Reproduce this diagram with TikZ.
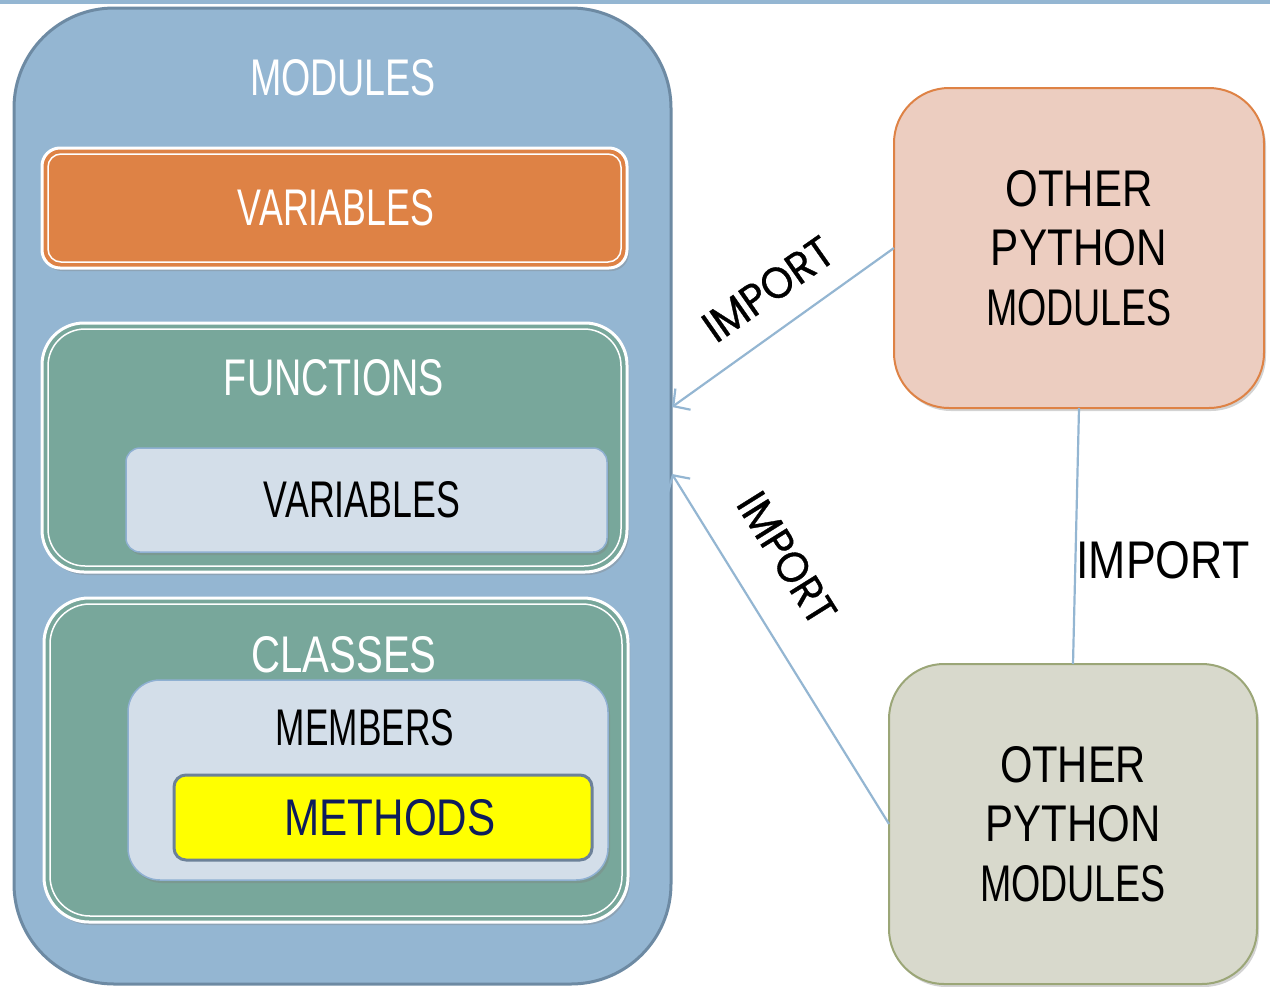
\documentclass[tikz,border=0pt]{standalone}
\usepackage{fontspec}
\setmainfont{Liberation Sans}
\newfontfamily\geo[FakeBold=0.8]{Poppins}
\usetikzlibrary{arrows.meta,shadows,calc}
\definecolor{cblue}{HTML}{94B6D2}
\definecolor{cbluedk}{HTML}{6D8AA3}
\definecolor{corange}{HTML}{DE8245}
\definecolor{cteal}{HTML}{78A79B}
\definecolor{clight}{HTML}{D3DEE9}
\definecolor{clightbd}{HTML}{8FB0D2}
\definecolor{cyell}{HTML}{FFFF00}
\definecolor{cyellbd}{HTML}{6C8199}
\definecolor{cnavy}{HTML}{0E1C5C}
\definecolor{cpink}{HTML}{ECCDC0}
\definecolor{cgrey}{HTML}{D8D9CC}
\definecolor{cgreybd}{HTML}{9BA677}
\newcommand{\lbl}[3]{\resizebox{#1pt}{#2pt}{#3}}
\begin{document}
\begin{tikzpicture}[x=1pt,y=-1pt,
  every node/.style={inner sep=0pt,outer sep=0pt},
  box/.style={anchor=north west},
  shad/.style={drop shadow={opacity=0.35,shadow xshift=2pt,shadow yshift=-3pt}},
  whitebox/.style={box,draw=white,line width=3pt,shad},
  lightbox/.style={box,fill=clight,draw=clightbd,line width=1.5pt,shad},
  conn/.style={draw=cblue,line width=2.2pt},
  arr/.style={conn,-{Straight Barb[length=12pt,width=26pt,line width=2.2pt]}},
  inner/.style={draw=white,line width=1.5pt}
]
\useasboundingbox (0,0) rectangle (1270,986);
\fill[cblue] (0,0) rectangle (1270,4);

% main modules box
\node[box,fill=cblue,draw=cbluedk,line width=3pt,rounded corners=100pt,
  minimum width=657pt,minimum height=976pt] (mod) at (14,8) {};
\node[text=white] (modt) at (343,78) {\lbl{186}{36}{MODULES}};

% variables (orange)
\node[whitebox,fill=corange,rounded corners=18pt,minimum width=585pt,minimum height=120pt] (ovar) at (42,148) {};
\draw[inner,rounded corners=13pt] ($(ovar.north west)+(6,6)$) rectangle ($(ovar.south east)+(-6,-6)$);
\node[text=white] (ovart) at (336,208) {\lbl{196}{36}{VARIABLES}};

% functions
\node[whitebox,fill=cteal,rounded corners=42pt,minimum width=585pt,minimum height=249pt] (fun) at (42,323) {};
\draw[inner,rounded corners=37pt] ($(fun.north west)+(6,6)$) rectangle ($(fun.south east)+(-6,-6)$);
\node[text=white] (funt) at (334,378) {\lbl{220}{36}{FUNCTIONS}};
\node[lightbox,rounded corners=14pt,minimum width=481pt,minimum height=104pt] (fvar) at (126,448) {};
\node[text=black] (fvart) at (362,500) {\lbl{196}{36}{VARIABLES}};

% classes
\node[whitebox,fill=cteal,rounded corners=45pt,minimum width=584pt,minimum height=324pt] (cls) at (44,598) {};
\draw[inner,rounded corners=40pt] ($(cls.north west)+(6,6)$) rectangle ($(cls.south east)+(-6,-6)$);
\node[text=white] (clst) at (344,655) {\lbl{185}{36}{CLASSES}};
\node[lightbox,rounded corners=32pt,minimum width=480pt,minimum height=200pt] (mem) at (128,680) {};
\node[text=black] (memt) at (365,728) {\lbl{178}{36}{MEMBERS}};
\node[box,fill=cyell,draw=cyellbd,line width=3pt,rounded corners=12pt,minimum width=418pt,minimum height=85pt] (meth) at (174,775) {};
\node[text=cnavy] (metht) at (390,818) {\lbl{211}{36}{METHODS}};

% right boxes
\node[box,fill=cpink,draw=corange,line width=2pt,rounded corners=55pt,shad,minimum width=370pt,minimum height=320pt] (trm) at (894,88) {};
\node[text=black,align=center] (trmt) at (1079,248) {\lbl{147}{36}{OTHER}\\[22pt]\lbl{176}{36}{PYTHON}\\[22pt]\lbl{186}{36}{MODULES}};
\node[box,fill=cgrey,draw=cgreybd,line width=2pt,rounded corners=55pt,shad,minimum width=368pt,minimum height=320pt] (brm) at (889,664) {};
\node[text=black,align=center] (brmt) at (1073,824) {\lbl{146}{36}{OTHER}\\[22pt]\lbl{175}{36}{PYTHON}\\[22pt]\lbl{186}{36}{MODULES}};

% connectors
\coordinate (a1) at (672,407);
\coordinate (a2) at (672,474);
\draw[arr] (trm.west) -- (a1);
\draw[arr] (brm.west) -- (a2);
\draw[conn] (trm.south) -- (brm.north);

\node[rotate=35] (l1) at (768,289) {\lbl{148}{31}{\geo IMPORT}};
\node[rotate=-58] (l2) at (787,558) {\lbl{146}{31}{\geo IMPORT}};
\node (l3) at (1163,560) {\lbl{173}{37}{IMPORT}};
\end{tikzpicture}
\end{document}
